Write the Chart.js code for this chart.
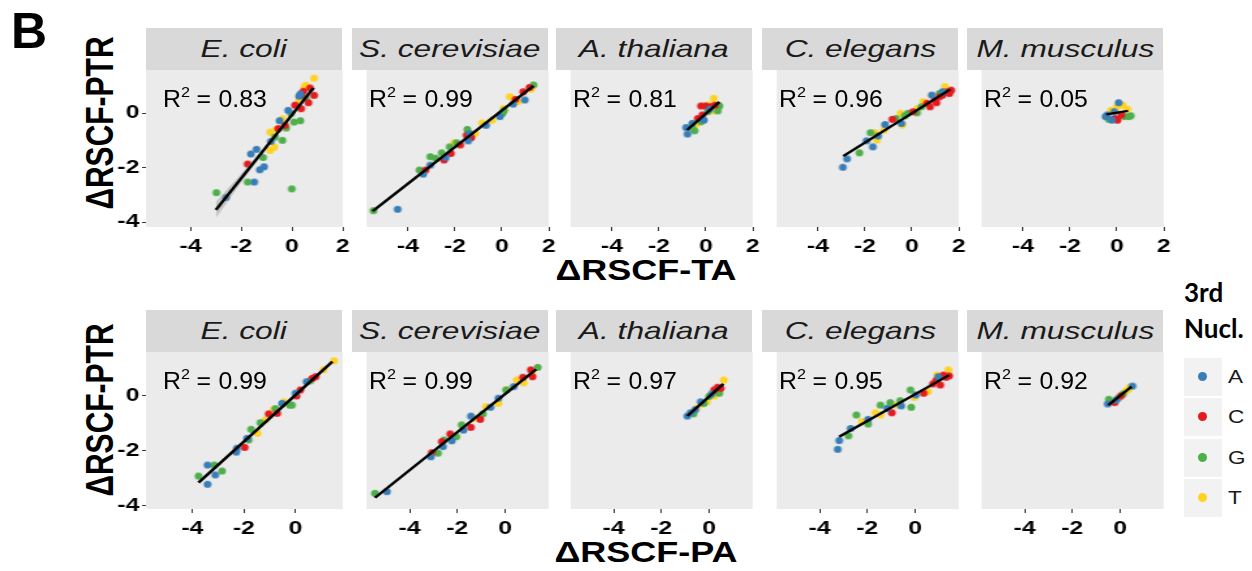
<!DOCTYPE html>
<html>
<head>
<meta charset="utf-8">
<script src="https://cdn.jsdelivr.net/npm/chart.js@4.4.1/dist/chart.umd.min.js"></script>
<style>
    body { margin: 0; width: 1252px; height: 571px; background: #fff; position: relative; overflow: hidden;
           font-family: "Liberation Sans", Arial, sans-serif; }
    canvas { position: absolute; z-index: 1; }
    .strip { position: absolute; width: 196px; background: #D9D9D9; color: #1a1a1a; font-style: italic;
             font-size: 24px; text-align: center; }
    .strip span { display: inline-block; transform: scaleX(1.32); }
    .r2 { position: absolute; z-index: 5; font-size: 23px; line-height: 23px; color: #000; white-space: nowrap;
          transform: scaleX(1.08); transform-origin: left center; }
    .r2 span.sup { font-size: 15px; position: relative; top: -10px; }
    .r2 span.eq { margin: 0 7px 0 6px; }
    .ytitle { position: absolute; font-weight: bold; font-size: 30px; white-space: nowrap; color: #000;
              transform: translate(-50%, -50%) scaleX(1.3) rotate(-90deg); }
    .xtitle { position: absolute; font-weight: bold; font-size: 30px; white-space: nowrap; color: #000;
              transform: translate(-50%, -50%) scaleX(1.2); }
    .tag { position: absolute; left: 11px; top: 2px; font-weight: bold; font-size: 50px; }
    .legtitle { position: absolute; left: 1184px; top: 274px; font-family: Lato, "Open Sans", sans-serif;
                font-weight: bold; font-size: 26px; line-height: 36px; }
    .key { position: absolute; left: 1184px; width: 38px; height: 38px; background: #F2F2F2; }
    .key i { position: absolute; left: 14px; top: 14px; width: 9px; height: 9px; border-radius: 50%; }
    .klab { position: absolute; left: 1228px; font-size: 18px; color: #1a1a1a; line-height: 38px;
            transform: scaleX(1.25); transform-origin: left center; }
</style>
</head>
<body>
<div class="tag">B</div>
<script>
// facets and labels
const species = ['E. coli', 'S. cerevisiae', 'A. thaliana', 'C. elegans', 'M. musculus'];
const nucleotides = ['A', 'C', 'G', 'T'];
const nucColors = ['#377EB8', '#E41A1C', '#4DAF4A', '#FFD320'];
const r2TA = ['0.83', '0.99', '0.81', '0.96', '0.05'];
const r2PA = ['0.99', '0.99', '0.97', '0.95', '0.92'];
const xTicksTA = [-4, -2, 0, 2];
const xTicksPA = [-4, -2, 0];
const yTicks = [-4, -2, 0];

// points: [3rd nucleotide, x, y]  -- top row (x = dRSCF-TA)
const ecoliTA = [
    ['T',0.87,1.28],['T',0.49,0.95],['T',0.55,1.02],['T',0.28,0.48],['T',-0.38,-0.21],['T',-0.86,-0.70],
    ['T',-0.62,-0.60],['T',-0.70,-1.25],['T',-0.86,-1.37],
    ['C',0.71,0.92],['C',0.87,0.65],['C',0.65,0.38],['C',0.36,0.65],['C',0.12,0.29],['C',0.36,0.16],
    ['C',0.45,0.80],['C',-0.28,-0.45],['C',-0.54,-0.57],['C',-1.75,-1.87],
    ['A',0.28,0.62],['A',-0.15,0.10],['A',-0.49,-0.28],['A',-0.83,-1.04],['A',-1.40,-1.33],['A',-1.62,-1.50],
    ['A',-1.10,-1.97],['A',-1.27,-2.08],['A',-1.49,-2.53],['A',-2.60,-3.10],['A',0.33,0.70],
    ['G',-0.04,-0.02],['G',0.08,-0.33],['G',0.33,-0.28],['G',-0.23,-0.55],['G',-0.38,-1.00],['G',-0.67,-0.88],
    ['G',-1.14,-1.63],['G',-1.75,-2.53],['G',-0.01,-2.78],['G',-2.98,-2.92],['G',0.55,0.55]
];
const scerTA = [
    ['G',-5.47,-3.58],['A',-4.44,-3.53],['G',-3.51,-2.09],['C',-3.25,-2.09],['A',-3.35,-2.24],['A',-3.05,-1.91],
    ['G',-3.05,-1.60],['G',-2.82,-1.66],['G',-2.56,-1.46],['C',-2.46,-1.72],['A',-2.39,-1.63],['G',-2.22,-1.24],
    ['C',-2.17,-1.48],['T',-2.03,-1.09],['G',-1.93,-1.09],['C',-1.77,-1.17],['G',-1.47,-0.60],['C',-1.50,-0.81],
    ['A',-1.43,-1.02],['A',-1.37,-0.75],['T',-1.14,-0.75],['T',-0.84,-0.36],['A',-0.67,-0.45],['T',-0.41,-0.26],
    ['A',-0.08,-0.13],['G',0.03,-0.01],['T',0.08,0.17],['T',0.34,0.60],['A',0.48,0.33],['C',0.58,0.50],
    ['T',0.69,0.42],['C',0.91,0.78],['A',0.98,0.48],['C',1.18,0.94],['G',1.35,1.03],['T',1.24,0.87],
    ['G',0.10,0.10],['C',-1.30,-0.90]
];
const athaTA = [
    ['A',-0.78,-0.77],['A',-0.84,-0.53],['G',-0.48,-0.65],['A',-0.58,-0.38],['T',-0.37,-0.38],['C',-0.34,-0.20],
    ['A',-0.08,-0.26],['G',-0.21,-0.32],['C',-0.21,0.26],['C',-0.01,0.26],['C',0.19,0.23],['T',0.34,0.54],
    ['G',0.58,0.26],['G',0.51,0.08],['T',0.29,0.08],['A',0.16,0.14],['G',0.08,0.05],['C',-0.15,-0.07],
    ['T',-0.48,-0.44],['C',0.38,0.29],['G',-0.60,-0.55],['T',0.10,0.30]
];
const celeTA = [
    ['A',-2.94,-1.99],['A',-2.76,-1.68],['G',-2.23,-1.46],['A',-1.66,-1.24],['G',-1.76,-0.72],['A',-1.93,-1.02],
    ['T',-1.49,-0.99],['A',-1.44,-0.84],['T',-1.57,-0.72],['A',-1.14,-0.42],['T',-1.18,-0.62],['C',-0.83,-0.23],
    ['G',-0.67,-0.20],['A',-0.44,-0.38],['T',-0.48,-0.01],['T',-0.41,-0.44],['G',-0.17,-0.01],['C',0.05,0.05],
    ['T',0.25,0.17],['G',0.22,0.01],['G',0.41,0.23],['T',0.49,0.42],['A',0.85,0.66],['C',0.65,0.36],
    ['C',0.78,0.23],['C',0.98,0.48],['C',1.18,0.60],['C',1.31,0.66],['C',1.50,0.78],['C',1.68,0.84],
    ['T',1.41,0.97],['G',1.18,0.72],['A',1.31,0.78],['C',1.60,0.72],['C',1.05,0.38],['G',-0.30,-0.10]
];
const mmusTA = [
    ['A',-0.41,-0.07],['A',-0.21,-0.26],['A',0.08,0.38],['T',0.25,0.29],['T',0.45,0.14],['C',-0.08,-0.20],
    ['C',0.03,-0.26],['G',0.51,-0.13],['G',-0.34,-0.23],['G',0.32,-0.13],['A',-0.11,0.05],['T',-0.01,0.21],
    ['C',0.19,-0.07],['A',-0.48,-0.13],['T',-0.25,0.10],['G',0.60,-0.10]
];

// bottom row (x = dRSCF-PA)
const ecoliPA = [
    ['T',1.49,1.28],['T',1.08,0.95],['C',0.78,0.70],['C',0.65,0.64],['A',0.43,0.52],['C',0.19,0.22],
    ['C',0.04,0.00],['A',0.00,0.10],['G',-0.22,-0.33],['T',-0.46,-0.21],['A',-0.52,-0.27],['C',-0.71,-0.63],
    ['T',-0.84,-0.48],['G',-0.78,-0.46],['C',-1.04,-0.65],['G',-1.36,-0.97],['T',-1.17,-0.87],['T',-1.47,-1.36],
    ['G',-1.72,-1.21],['A',-1.88,-1.54],['G',-1.82,-1.60],['C',-1.97,-1.87],['A',-2.30,-2.04],['A',-2.27,-1.90],
    ['G',-3.15,-2.51],['A',-3.41,-2.51],['G',-3.76,-2.91],['G',-2.85,-2.73],['A',-3.11,-2.87],['A',-3.41,-3.21],
    ['G',0.57,0.55],['G',-0.14,-0.33]
];
const scerPA = [
    ['G',-5.45,-3.54],['A',-4.95,-3.48],['C',-3.07,-2.06],['A',-3.11,-2.21],['G',-2.81,-2.08],['C',-2.65,-1.66],
    ['G',-2.56,-1.60],['A',-2.60,-1.84],['C',-2.30,-1.38],['G',-2.04,-1.48],['A',-2.23,-1.63],['G',-1.82,-1.05],
    ['A',-1.74,-1.24],['C',-1.43,-1.14],['A',-1.43,-0.73],['T',-1.26,-0.81],['C',-1.04,-0.85],['G',-0.93,-0.65],
    ['T',-0.80,-0.39],['A',-0.61,-0.41],['T',-0.28,-0.27],['A',-0.28,-0.08],['G',0.04,0.22],['T',0.10,0.24],
    ['A',0.36,0.34],['T',0.49,0.58],['C',0.75,0.68],['T',0.78,0.48],['C',1.08,0.95],['T',1.14,0.83],
    ['G',1.37,1.04],['C',1.15,0.70]
];
const athaPA = [
    ['A',-0.91,-0.73],['A',-0.78,-0.61],['G',-0.65,-0.65],['T',-0.54,-0.45],['A',-0.35,-0.21],['G',-0.22,-0.27],
    ['T',-0.09,-0.21],['G',0.00,-0.02],['C',0.21,0.22],['C',0.36,0.32],['C',0.49,0.28],['T',0.62,0.58],
    ['G',0.43,0.10],['T',0.23,0.00],['A',0.10,0.07],['G',0.35,0.15],['A',-0.58,-0.50],['T',-0.30,-0.30]
];
const celePA = [
    ['A',-3.24,-1.94],['A',-3.18,-1.62],['G',-2.79,-1.45],['A',-2.70,-1.18],['G',-2.46,-0.69],['T',-2.23,-0.93],
    ['A',-1.97,-0.85],['G',-1.97,-1.02],['T',-1.66,-0.61],['G',-1.45,-0.33],['T',-1.45,-0.69],['A',-1.17,-0.45],
    ['G',-1.04,-0.24],['C',-0.97,-0.61],['T',-0.78,-0.33],['A',-0.58,-0.36],['G',-0.62,-0.17],['G',-0.19,0.22],
    ['G',-0.16,-0.41],['T',-0.03,-0.05],['A',0.03,0.04],['C',0.36,0.10],['T',0.54,0.16],['C',0.75,0.44],
    ['C',0.88,0.56],['A',0.97,0.70],['C',1.06,0.40],['C',1.19,0.76],['C',1.30,0.68],['C',1.43,0.73],
    ['T',1.40,0.95],['T',0.93,0.76]
];
const mmusPA = [
    ['A',-0.52,-0.29],['G',-0.47,-0.12],['C',-0.23,-0.24],['G',-0.08,-0.08],['C',0.03,0.00],['T',0.22,0.16],
    ['T',0.35,0.24],['A',0.52,0.36],['T',0.42,0.33],['A',-0.17,-0.15],['G',0.12,0.07]
];

// fitted lines: [x0, y0, x1, y1]
const fitTA = [[-3.0,-3.55,0.85,0.92], [-5.5,-3.6,1.35,1.0], [-0.8,-0.62,0.58,0.41], [-2.92,-1.58,1.64,0.87], [-0.45,-0.05,0.48,0.08]];
const fitPA = [[-3.76,-3.15,1.43,1.25], [-5.45,-3.7,1.3,0.97], [-0.91,-0.73,0.6,0.44], [-3.18,-1.48,1.43,0.76], [-0.49,-0.33,0.48,0.34]];
// confidence band around the E. coli TA fit
const bandX = [-3.0, -2.0, -1.0, 0.0, 0.85];
const bandHalf = [0.30, 0.16, 0.08, 0.07, 0.12];

// the original figure is stretched sideways; canvases are drawn narrow and widened by this factor
const STRETCH = 1.3;
const panelLefts = [146, 352, 556, 762, 967];
const PANEL_W = 151, PANEL_H = 157;

const panelBg = {
    id: 'panelBg',
    beforeDraw(chart) {
        const a = chart.chartArea, ctx = chart.ctx;
        ctx.save();
        ctx.fillStyle = '#EBEBEB';
        ctx.fillRect(a.left, a.top, a.right - a.left, a.bottom - a.top);
        ctx.restore();
    }
};

// dots pre-squeezed so they come out round after the stretch
function dotImage(color) {
    var c = document.createElement('canvas');
    c.width = 9; c.height = 9;
    var g = c.getContext('2d');
    g.fillStyle = color;
    g.beginPath();
    g.ellipse(4.5, 4.5, 3.6 / STRETCH * 1.08, 3.6, 0, 0, Math.PI * 2);
    g.fill();
    return c;
}
var dots = nucColors.map(dotImage);

function addDiv(cls, html, style) {
    var d = document.createElement('div');
    d.className = cls;
    d.innerHTML = html;
    Object.assign(d.style, style);
    document.body.appendChild(d);
    return d;
}

function makePanel(row, col, pts, fit, r2) {
    var left = panelLefts[col];
    var top = row === 0 ? 70 : 352;
    var PL = col === 0 ? 36 : 11, PR = 11, PT = 18, XH = 36;

    addDiv('strip', '<span>' + species[col] + '</span>', {
        left: left + 'px', top: (top - 42) + 'px', height: '42px', lineHeight: '42px'
    });
    addDiv('r2', 'R<span class="sup">2</span><span class="eq">=</span>' + r2, {
        left: (left + 17) + 'px', top: (top + 18) + 'px'
    });

    var cv = document.createElement('canvas');
    cv.width = PL + PANEL_W + PR;
    cv.height = PT + PANEL_H + XH;
    cv.style.width = (cv.width * STRETCH) + 'px';
    cv.style.height = cv.height + 'px';
    cv.style.left = (left - PL * STRETCH) + 'px';
    cv.style.top = (top - PT) + 'px';
    document.body.appendChild(cv);

    var datasets = [{
        type: 'line',
        data: [{x: fit[0], y: fit[1]}, {x: fit[2], y: fit[3]}],
        borderColor: '#000', borderWidth: 2.4, pointRadius: 0, fill: false
    }];
    if (row === 0 && col === 0) {
        var slope = (fit[3] - fit[1]) / (fit[2] - fit[0]);
        var lineAt = function (x) { return fit[1] + slope * (x - fit[0]); };
        datasets.push({
            type: 'line',
            data: bandX.map(function (x, i) { return {x: x, y: lineAt(x) + bandHalf[i]}; }),
            borderWidth: 0, pointRadius: 0, backgroundColor: 'rgba(150,150,150,0.45)', fill: '+1'
        });
        datasets.push({
            type: 'line',
            data: bandX.map(function (x, i) { return {x: x, y: lineAt(x) - bandHalf[i]}; }),
            borderWidth: 0, pointRadius: 0, fill: false
        });
    }
    nucleotides.forEach(function (n, i) {
        datasets.push({
            data: pts.filter(function (p) { return p[0] === n; }).map(function (p) { return {x: p[1], y: p[2]}; }),
            pointStyle: dots[i], backgroundColor: nucColors[i], borderWidth: 0, pointRadius: 3.6
        });
    });

    var tickFont = {family: 'Liberation Sans', weight: 'bold', size: 19};
    var xTicks = row === 0 ? xTicksTA : xTicksPA;

    new Chart(cv.getContext('2d'), {
        type: 'scatter',
        data: {datasets: datasets},
        options: {
            responsive: false,
            animation: false,
            devicePixelRatio: 1,
            events: [],
            layout: {padding: {left: col === 0 ? 0 : PL, right: PR, top: PT, bottom: 0}},
            plugins: {legend: {display: false}, tooltip: {enabled: false}},
            scales: {
                x: {
                    type: 'linear',
                    min: row === 0 ? -5.76 : -5.8,
                    max: row === 0 ? 2.0 : 1.83,
                    afterBuildTicks: function (axis) { axis.ticks = xTicks.map(function (v) { return {value: v}; }); },
                    afterFit: function (axis) { axis.height = XH; },
                    ticks: {font: tickFont, color: '#000', padding: 4, maxRotation: 0},
                    grid: {drawOnChartArea: false, drawTicks: true, tickLength: 4, color: '#333'},
                    border: {display: false}
                },
                y: {
                    type: 'linear',
                    display: col === 0,
                    min: row === 0 ? -4.18 : -4.11,
                    max: row === 0 ? 1.58 : 1.6,
                    afterBuildTicks: function (axis) { axis.ticks = yTicks.map(function (v) { return {value: v}; }); },
                    afterFit: function (axis) { axis.width = PL; },
                    ticks: {font: tickFont, color: '#000', padding: 2},
                    grid: {drawOnChartArea: false, drawTicks: true, tickLength: 3, color: '#333'},
                    border: {display: false}
                }
            }
        },
        plugins: [panelBg]
    });
}

var taSets = [ecoliTA, scerTA, athaTA, celeTA, mmusTA];
var paSets = [ecoliPA, scerPA, athaPA, celePA, mmusPA];
for (var c = 0; c < 5; c++) {
    makePanel(0, c, taSets[c], fitTA[c], r2TA[c]);
    makePanel(1, c, paSets[c], fitPA[c], r2PA[c]);
}

// axis titles
addDiv('ytitle', '\u0394RSCF-PTR', {left: '100px', top: '123px'});
addDiv('ytitle', '\u0394RSCF-PTR', {left: '100px', top: '410px'});
addDiv('xtitle', '\u0394RSCF-TA', {left: '646px', top: '270px'});
addDiv('xtitle', '\u0394RSCF-PA', {left: '646px', top: '552px'});

// legend
addDiv('legtitle', '3rd<br>Nucl.', {});
var keyTops = [358, 398, 439, 479];
nucleotides.forEach(function (n, i) {
    addDiv('key', '<i style="background:' + nucColors[i] + '"></i>', {top: keyTops[i] + 'px'});
    addDiv('klab', n, {top: keyTops[i] + 'px'});
});
</script>
</body>
</html>
